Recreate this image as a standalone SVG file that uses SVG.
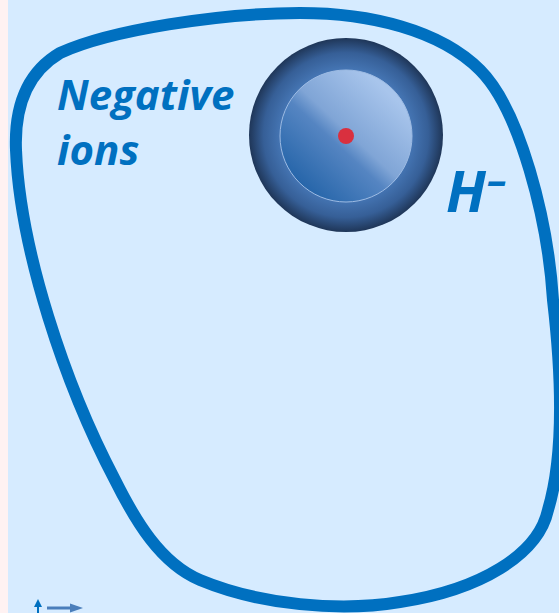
<svg xmlns="http://www.w3.org/2000/svg" width="559" height="613" viewBox="0 0 559 613">
  <defs>
    <style>
      .label { font-family: "Open Sans", "Liberation Sans", sans-serif; font-weight: bold; font-style: italic; fill: #0070c0; }
      .outline { fill: none; stroke: #0070c0; stroke-width: 12; stroke-linejoin: round; }
    </style>
    <radialGradient id="shellGrad" cx="346" cy="135" r="97" gradientUnits="userSpaceOnUse">
      <stop offset="0" stop-color="#5b8dcc"/>
      <stop offset="0.66" stop-color="#4677b6"/>
      <stop offset="0.85" stop-color="#365f97"/>
      <stop offset="1" stop-color="#1f3658"/>
    </radialGradient>
    <linearGradient id="coreGrad" x1="0.15" y1="0.85" x2="0.8" y2="0.15">
      <stop offset="0" stop-color="#2766aa"/>
      <stop offset="0.42" stop-color="#5585c2"/>
      <stop offset="0.55" stop-color="#80a5d6"/>
      <stop offset="1" stop-color="#a8c5ec"/>
    </linearGradient>
  </defs>

  <!-- page background -->
  <rect x="0" y="0" width="559" height="613" fill="#d6ebff"/>
  <rect x="0" y="0" width="8" height="613" fill="#fff2f2"/>

  <!-- boundary of the region -->
  <g id="region">
    <path class="outline" d="M16,150
      C14.2,105 28,72 60,53
      C110,30 220,13 300,13
      C370,13 440,30 480,70
      C520,110 548,220 553,300
      C560,360 566,450 548,510
      C538,555 480,590 400,602
      C340,612 260,605 200,580
      C160,563 135,520 115,480
      C65,385 20,250 16,150 Z"/>
  </g>

  <!-- ion sphere -->
  <g id="ion">
    <circle cx="346" cy="135" r="97" fill="url(#shellGrad)"/>
    <circle cx="346" cy="136" r="66" fill="url(#coreGrad)" stroke="#9dbbe3" stroke-width="1"/>
    <circle cx="346" cy="136" r="8" fill="#d9303f"/>
  </g>

  <!-- labels -->
  <g id="title">
    <text class="label" x="57" y="110" font-size="42">Negative</text>
    <text class="label" x="57" y="165" font-size="42">ions</text>
  </g>
  <g id="symbol">
    <text class="label" x="446" y="212" font-size="57">H</text>
    <text class="label" x="487" y="194" font-size="40">–</text>
  </g>

  <!-- axis hints -->
  <g id="axes">
    <line x1="38" y1="613" x2="38" y2="605" stroke="#0070c0" stroke-width="2"/>
    <path d="M34,607 L38,599 L42,607 Z" fill="#0070c0"/>
    <line x1="47" y1="608" x2="71" y2="608" stroke="#4a7ebb" stroke-width="3"/>
    <path d="M70,603.5 L83,608 L70,612.5 Z" fill="#4a7ebb"/>
  </g>
</svg>
